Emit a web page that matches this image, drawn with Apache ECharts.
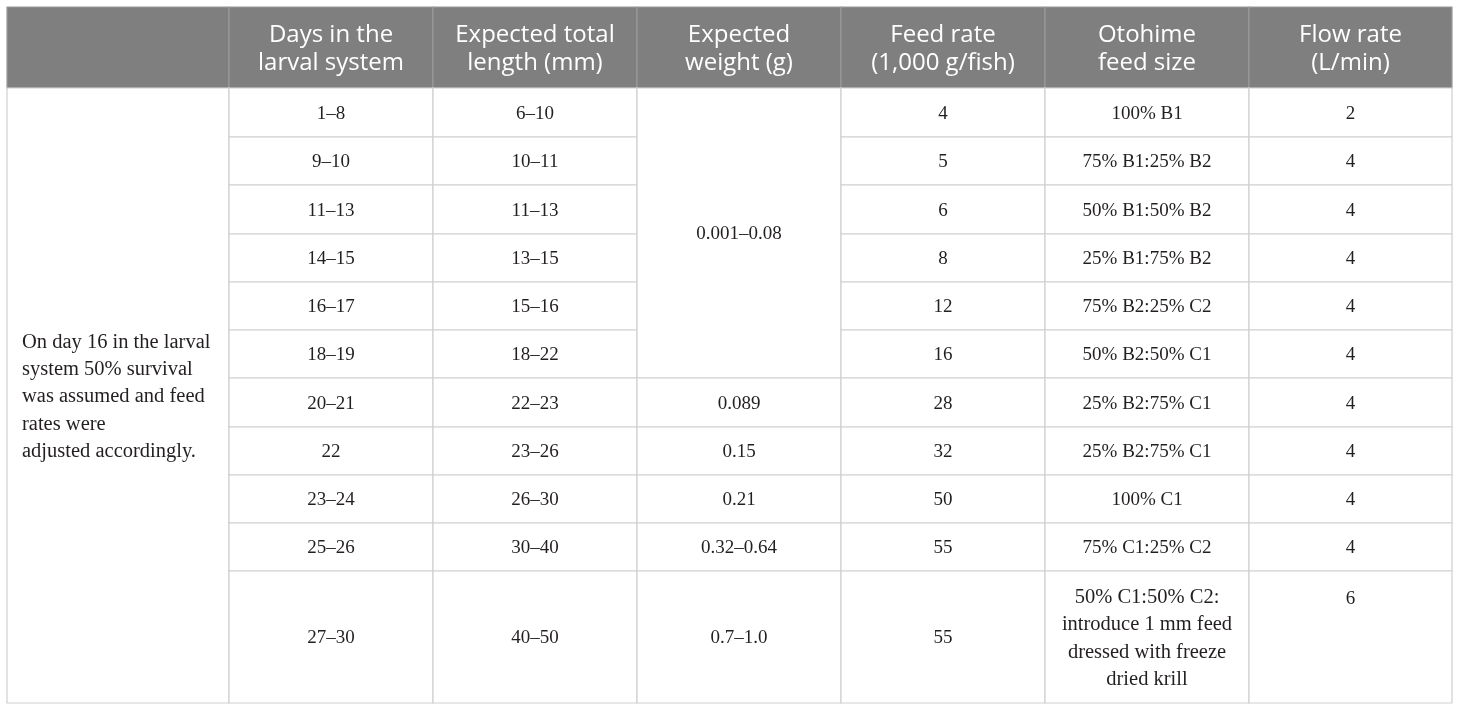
<!DOCTYPE html>
<html>
<head>
<meta charset="utf-8">
<script src="https://cdn.jsdelivr.net/npm/echarts@6/dist/echarts.min.js"></script>
<style>
  html, body { margin: 0; padding: 0; background: #fff; }
  #table { width: 1460px; height: 711px; }
</style>
</head>
<body>
<div id="table"></div>
<script>
// table content
var headers = ['', 'Days in the\nlarval system', 'Expected total\nlength (mm)', 'Expected\nweight (g)',
  'Feed rate\n(1,000 g/fish)', 'Otohime\nfeed size', 'Flow rate\n(L/min)'];
var note = 'On day 16 in the larval\nsystem 50% survival\nwas assumed and feed\nrates were\nadjusted accordingly.';
var days = ['1–8', '9–10', '11–13', '14–15', '16–17', '18–19', '20–21', '22', '23–24', '25–26', '27–30'];
var lengths = ['6–10', '10–11', '11–13', '13–15', '15–16', '18–22', '22–23', '23–26', '26–30', '30–40', '40–50'];
// weight cells: [text, rows spanned]
var weights = [['0.001–0.08', 6], ['0.089', 1], ['0.15', 1], ['0.21', 1], ['0.32–0.64', 1], ['0.7–1.0', 1]];
var feedRates = [4, 5, 6, 8, 12, 16, 28, 32, 50, 55, 55];
var feedSizes = ['100% B1', '75% B1:25% B2', '50% B1:50% B2', '25% B1:75% B2', '75% B2:25% C2',
  '50% B2:50% C1', '25% B2:75% C1', '25% B2:75% C1', '100% C1', '75% C1:25% C2',
  '50% C1:50% C2:\nintroduce 1 mm feed\ndressed with freeze\ndried krill'];
var flowRates = [2, 4, 4, 4, 4, 4, 4, 4, 4, 4, 6];

// layout (axis units = px inside the grid)
var colEdges = [0, 222, 426, 630, 834, 1038, 1242, 1445];
var rowEdges = [0, 81, 130, 178, 227, 275, 323, 371, 420, 468, 516, 564, 696];
var W = 1445, H = 696;

var cells = [];
function addCell(c0, c1, r0, r1, text, kind, align, valign) {
  text = String(text);
  // multi-line prose gets a slightly bigger size (source font is wider than Times)
  if (kind === 'body' && text.indexOf('\n') >= 0) kind = 'prose';
  cells.push({ value: [colEdges[c0], rowEdges[r0], colEdges[c1], rowEdges[r1]],
    text: text, kind: kind, align: align || 'center', valign: valign || 'middle' });
}
headers.forEach(function (h, i) { addCell(i, i + 1, 0, 1, h, 'head'); });
addCell(0, 1, 1, 12, note, 'body', 'left');
days.forEach(function (d, i) { addCell(1, 2, i + 1, i + 2, d, 'body'); });
lengths.forEach(function (d, i) { addCell(2, 3, i + 1, i + 2, d, 'body'); });
var r = 1;
weights.forEach(function (w) { addCell(3, 4, r, r + w[1], w[0], 'body'); r += w[1]; });
feedRates.forEach(function (d, i) { addCell(4, 5, i + 1, i + 2, d, 'body'); });
feedSizes.forEach(function (d, i) { addCell(5, 6, i + 1, i + 2, d, 'body'); });
flowRates.forEach(function (d, i) {
  addCell(6, 7, i + 1, i + 2, d, 'body', 'center', i === flowRates.length - 1 ? 'top' : 'middle');
});

var chart = echarts.init(document.getElementById('table'));
chart.setOption({
  animation: false,
  grid: { left: 7, top: 7, width: W, height: H },
  xAxis: { type: 'value', min: 0, max: W, show: false },
  yAxis: { type: 'value', min: 0, max: H, inverse: true, show: false },
  series: [{
    type: 'custom',
    coordinateSystem: 'cartesian2d',
    encode: { x: [0, 2], y: [1, 3] },
    data: cells,
    renderItem: function (params, api) {
      var c = cells[params.dataIndex];
      var p0 = api.coord([api.value(0), api.value(1)]);
      var p1 = api.coord([api.value(2), api.value(3)]);
      var head = c.kind === 'head';
      var tx = c.align === 'left' ? p0[0] + 15 : (p0[0] + p1[0]) / 2;
      var ty = (p0[1] + p1[1]) / 2 + (head ? 2 : 1.5);
      var va = 'middle';
      if (c.valign === 'top') { ty = p0[1] + 14; va = 'top'; }
      return {
        type: 'group',
        children: [{
          type: 'rect',
          shape: { x: p0[0], y: p0[1], width: p1[0] - p0[0], height: p1[1] - p0[1] },
          style: { fill: head ? '#7f7f7f' : '#fff', stroke: head ? '#9a9a9a' : '#cfcfcf', lineWidth: 1.2 }
        }, {
          type: 'text',
          style: {
            x: tx, y: ty, text: c.text,
            align: c.align, verticalAlign: va,
            fill: head ? '#fff' : '#231f20',
            fontFamily: head ? 'Open Sans' : 'Liberation Serif',
            fontSize: head ? 24 : (c.kind === 'prose' ? 20.5 : 19),
            lineHeight: head ? 28 : 27.3
          }
        }]
      };
    }
  }]
});
</script>
</body>
</html>
